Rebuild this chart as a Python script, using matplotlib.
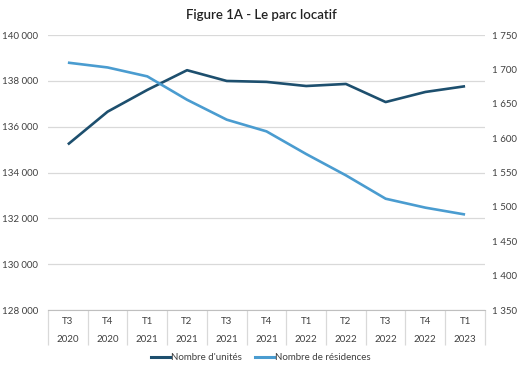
import matplotlib
matplotlib.use("Agg")
import matplotlib.pyplot as plt
from matplotlib.ticker import FuncFormatter, FixedLocator
from matplotlib.lines import Line2D

plt.rcParams['font.family'] = ['Lato', 'DejaVu Sans']

quarters = ["T3", "T4", "T1", "T2", "T3", "T4", "T1", "T2", "T3", "T4", "T1"]
years = ["2020", "2020", "2021", "2021", "2021", "2021", "2022", "2022", "2022", "2022", "2023"]
unites = [135230, 136660, 137610, 138470, 138000, 137960, 137780, 137870, 137080, 137520, 137770]
residences = [1710, 1703, 1690, 1656, 1627, 1610, 1577, 1546, 1512, 1499, 1489]

dark = "#1d4f6e"
light = "#4a9cd0"
grey_txt = "#404040"


def space_fmt(v, pos):
    return f"{int(round(v)):,}".replace(",", " ")


fig = plt.figure(figsize=(5.22, 3.74), dpi=100)
ax = fig.add_axes([0.092, 0.171, 0.837, 0.735])
ax2 = ax.twinx()

x = list(range(len(quarters)))
ax.plot(x, unites, color=dark, lw=1.9, solid_capstyle="butt", zorder=3)
ax2.plot(x, residences, color=light, lw=1.9, solid_capstyle="butt", zorder=3)

ax.set_xlim(-0.5, len(quarters) - 0.5)
ax.set_ylim(128000, 140000)
ax2.set_ylim(1350, 1750)
ax.set_yticks(range(128000, 140001, 2000))
ax2.set_yticks(range(1350, 1751, 50))
ax.yaxis.set_major_formatter(FuncFormatter(space_fmt))
ax2.yaxis.set_major_formatter(FuncFormatter(space_fmt))

ax.grid(axis="y", color="#d9d9d9", lw=0.9)
ax.set_axisbelow(True)

for a in (ax, ax2):
    for s in a.spines.values():
        s.set_visible(False)
ax.spines["bottom"].set_visible(True)
ax.spines["bottom"].set_color("#bfbfbf")

ax.tick_params(axis="y", length=0, pad=7, labelsize=7, labelcolor=grey_txt)
ax2.tick_params(axis="y", length=0, pad=5, labelsize=7, labelcolor=grey_txt)

ax.set_xticks(x)
ax.set_xticklabels([f"{q}\n{y}" for q, y in zip(quarters, years)],
                   fontsize=7, color=grey_txt, linespacing=2.3)
ax.tick_params(axis="x", which="major", length=0, pad=5)
ax.xaxis.set_minor_locator(FixedLocator([i - 0.5 for i in range(len(quarters) + 1)]))
ax.tick_params(axis="x", which="minor", length=25, color="#d9d9d9", width=0.9)

fig.suptitle("Figure 1A - Le parc locatif", y=0.975, fontsize=9.5,
             fontweight="semibold", color="#222222")

handles = [Line2D([], [], color=dark, lw=2.2),
           Line2D([], [], color=light, lw=2.2)]
fig.legend(handles, ["Nombre d'unités", "Nombre de résidences"],
           loc="center", bbox_to_anchor=(0.5, 0.043), ncol=2, frameon=False,
           fontsize=7, handlelength=2.0, handletextpad=0.1, columnspacing=1.3,
           labelcolor=grey_txt)

fig.savefig("out.png", dpi=100, facecolor="white")
